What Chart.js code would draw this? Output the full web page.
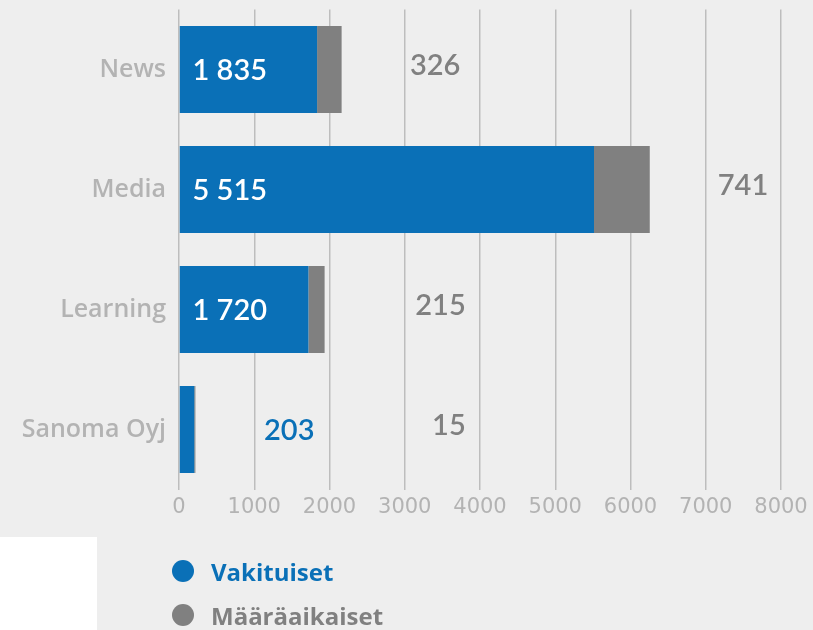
<!DOCTYPE html>
<html>
<head>
<meta charset="utf-8">
<script src="https://cdn.jsdelivr.net/npm/chart.js@4.4.0/dist/chart.umd.min.js"></script>
<style>
  html, body { margin: 0; padding: 0; background: #eeeeee; }
  body { width: 813px; height: 630px; position: relative; overflow: hidden; font-family: "Open Sans", sans-serif; }
  #wrap { position: absolute; left: 0; top: 0; width: 813px; height: 630px; }
  .whitebox { position: absolute; left: 0; top: 537px; width: 97px; height: 93px; background: #fff; }
  .legend { position: absolute; left: 172px; top: 549px; }
  .legend div { height: 44px; display: flex; align-items: center; font-size: 24px; font-weight: 700; }
  .legend span.dot { width: 22px; height: 22px; border-radius: 50%; display: inline-block; margin-right: 17px; }
</style>
</head>
<body>
<div class="whitebox"></div>
<div id="wrap"><canvas id="chart" width="813" height="630"></canvas></div>
<div class="legend">
  <div style="color:#0a70b7"><span class="dot" style="background:#0a70b7"></span>Vakituiset</div>
  <div style="color:#808080"><span class="dot" style="background:#808080"></span>Määräaikaiset</div>
</div>
<script>
  // Chart data
  const categories = ["News", "Media", "Learning", "Sanoma Oyj"];
  const permanent = [1835, 5515, 1720, 203];
  const fixedTerm = [326, 741, 215, 15];
  const xTicks = [0, 1000, 2000, 3000, 4000, 5000, 6000, 7000, 8000];

  // where the value labels sit, in axis units
  const permanentLabelAt = [180, 180, 180, 1130];
  const fixedTermLabelAt = [3740, 7830, 3810, 3810];

  const BLUE = "#0a70b7";
  const GREY = "#808080";

  function fmt(n) {
    return String(n).replace(/\B(?=(\d{3})+(?!\d))/g, " ");
  }

  const valueLabels = {
    id: "valueLabels",
    afterDatasetsDraw(chart) {
      const ctx = chart.ctx;
      const x = chart.scales.x;
      const blueMeta = chart.getDatasetMeta(0);
      const greyMeta = chart.getDatasetMeta(1);
      ctx.save();
      ctx.textBaseline = "middle";
      ctx.font = "600 29px Lato, 'Open Sans', sans-serif";
      blueMeta.data.forEach((bar, i) => {
        const inside = permanentLabelAt[i] < permanent[i];
        ctx.fillStyle = inside ? "#ffffff" : BLUE;
        ctx.textAlign = "left";
        ctx.fillText(fmt(permanent[i]), x.getPixelForValue(permanentLabelAt[i]), bar.y + 1);
      });
      greyMeta.data.forEach((bar, i) => {
        ctx.fillStyle = GREY;
        ctx.textAlign = "right";
        ctx.fillText(fmt(fixedTerm[i]), x.getPixelForValue(fixedTermLabelAt[i]), bar.y - 4);
      });
      ctx.restore();
    },
  };

  new Chart(document.getElementById("chart"), {
    type: "bar",
    data: {
      labels: categories,
      datasets: [
        {
          label: "Vakituiset",
          data: permanent,
          backgroundColor: BLUE,
          categoryPercentage: 1,
          barPercentage: 0.725,
        },
        {
          label: "Määräaikaiset",
          data: fixedTerm,
          backgroundColor: GREY,
          categoryPercentage: 1,
          barPercentage: 0.725,
        },
      ],
    },
    options: {
      indexAxis: "y",
      responsive: false,
      animation: false,
      layout: { padding: { top: 9.5, left: 0, right: 32, bottom: 100.5 } },
      plugins: {
        legend: { display: false },
        tooltip: { enabled: false },
      },
      scales: {
        x: {
          stacked: true,
          min: 0,
          max: 8000,
          afterBuildTicks(scale) {
            scale.ticks = xTicks.map((v) => ({ value: v }));
          },
          afterFit(scale) {
            scale.height = 40;
            scale.paddingLeft = 0;
            scale.paddingRight = 0;
          },
          grid: { color: "#bdbdbd", lineWidth: 1.5, drawTicks: false },
          border: { display: false },
          ticks: {
            padding: 5,
            color: "#b3b3b3",
            callback: (v) => String(v),
            font: { family: "'DejaVu Sans', sans-serif", size: 21 },
          },
        },
        y: {
          stacked: true,
          afterFit(scale) {
            scale.width = 179;
            scale.paddingTop = 0;
            scale.paddingBottom = 0;
          },
          grid: { display: false },
          border: { display: false },
          ticks: {
            padding: 5,
            color: "#b3b3b3",
            font: { family: "'Open Sans', sans-serif", size: 25, weight: "600" },
          },
        },
      },
    },
    plugins: [valueLabels],
  });
</script>
</body>
</html>
